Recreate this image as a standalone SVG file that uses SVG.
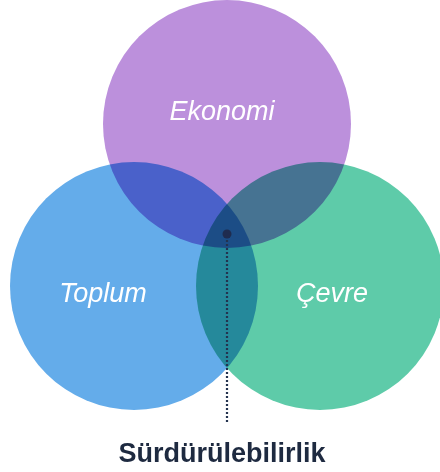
<svg xmlns="http://www.w3.org/2000/svg" width="440" height="472" viewBox="0 0 440 472">
<style>
.c{mix-blend-mode:multiply}
.lbl{font-family:"Liberation Sans",Arial,sans-serif;font-style:italic;font-size:27px;fill:#ffffff;text-anchor:middle}
.title{font-family:"Liberation Sans",Arial,sans-serif;font-weight:bold;font-size:27px;fill:#1e2a40;text-anchor:middle}
</style>
<rect width="440" height="472" fill="#ffffff"/>
<g style="isolation:isolate">
<g id="ekonomi"><circle class="c" cx="227" cy="124" r="124" fill="#bc90dc"/></g>
<g id="toplum"><circle class="c" cx="134" cy="286" r="124" fill="#64acea"/></g>
<g id="cevre"><circle class="c" cx="320" cy="286" r="124" fill="#5ecba9"/></g>
</g>
<text class="lbl" x="222" y="120">Ekonomi</text>
<text class="lbl" x="103" y="302">Toplum</text>
<text class="lbl" x="332" y="302">Çevre</text>
<g id="connectors">
<line x1="227" y1="240" x2="227" y2="424" stroke="#24334f" stroke-width="2.2" stroke-dasharray="2,2"/>
<circle cx="227" cy="234" r="4.5" fill="#1f2c4f"/>
</g>
<g id="surdurulebilirlik"><text class="title" x="222" y="462">Sürdürülebilirlik</text></g>
</svg>
